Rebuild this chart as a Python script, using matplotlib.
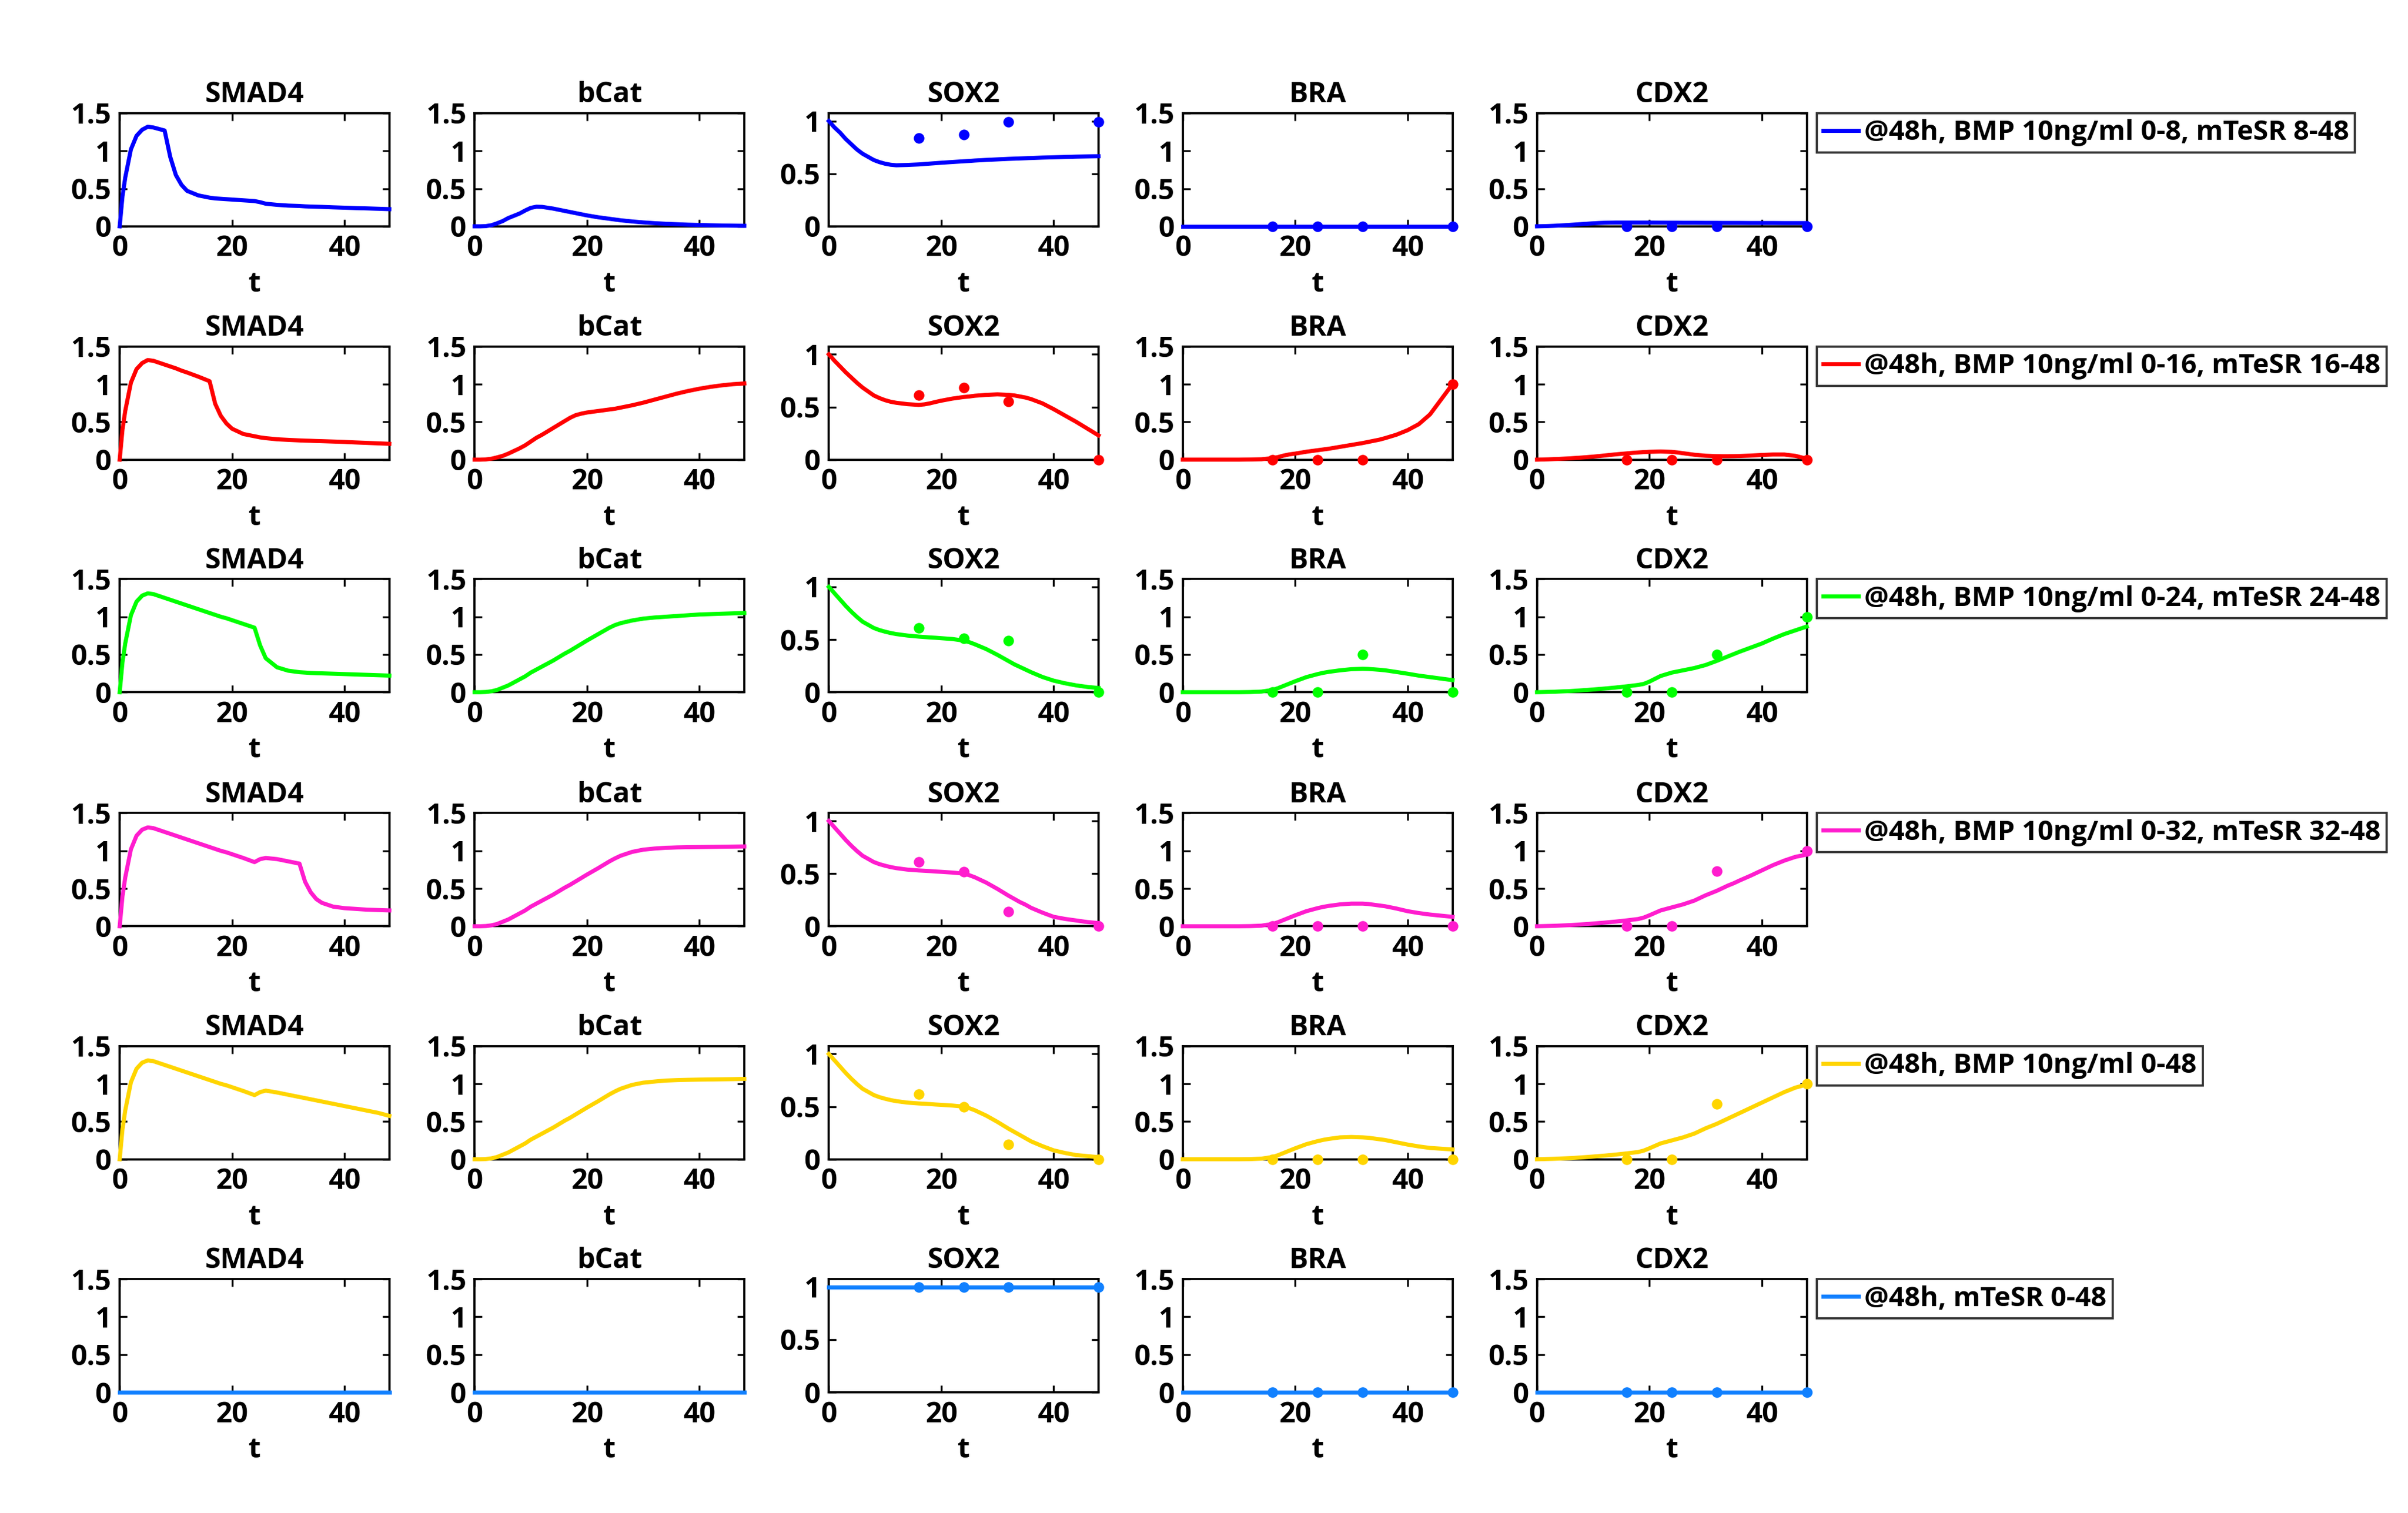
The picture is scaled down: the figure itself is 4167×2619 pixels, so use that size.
import matplotlib
matplotlib.use("Agg")
import matplotlib.pyplot as plt
import matplotlib.ticker as ticker

plt.rcParams["font.family"] = ["Open Sans", "DejaVu Sans"]
plt.rcParams["font.weight"] = "bold"

# ── Data ──────────────────────────────────────────────────────────────────────
# model time grid (hours)
T = [0, 0.5, 1, 2, 3, 4, 5, 6, 8, 9, 10, 11,
     12, 14, 16, 17, 18, 19, 20, 22, 24, 25, 26, 28,
     30, 32, 33, 34, 35, 36, 38, 40, 42, 44, 46, 48]

# measurement times
T_DATA = [16, 24, 32, 48]

GENES = ["SMAD4", "bCat", "SOX2", "BRA", "CDX2"]

CONDITIONS = [
    "@48h, BMP 10ng/ml 0-8, mTeSR 8-48",
    "@48h, BMP 10ng/ml 0-16, mTeSR 16-48",
    "@48h, BMP 10ng/ml 0-24, mTeSR 24-48",
    "@48h, BMP 10ng/ml 0-32, mTeSR 32-48",
    "@48h, BMP 10ng/ml 0-48",
    "@48h, mTeSR 0-48",
]
COLORS = ["#0000FF", "#FF0000", "#00FF00", "#FF1DCE", "#FFD500", "#1080FF"]

ZERO = [0, 0, 0, 0, 0, 0, 0, 0, 0, 0, 0, 0,
        0, 0, 0, 0, 0, 0, 0, 0, 0, 0, 0, 0,
        0, 0, 0, 0, 0, 0, 0, 0, 0, 0, 0, 0]
ONE = [1, 1, 1, 1, 1, 1, 1, 1, 1, 1, 1, 1,
       1, 1, 1, 1, 1, 1, 1, 1, 1, 1, 1, 1,
       1, 1, 1, 1, 1, 1, 1, 1, 1, 1, 1, 1]

# simulated curves, one list per condition (row)
SMAD4 = [
    [0, .40, .65, 1.02, 1.20, 1.28, 1.32, 1.31, 1.27, 0.92, 0.68, 0.55,
     0.47, 0.41, 0.38, 0.37, 0.365, 0.36, 0.355, 0.345, 0.335, 0.32, 0.30, 0.285,
     0.275, 0.27, 0.265, 0.262, 0.26, 0.258, 0.252, 0.247, 0.242, 0.238, 0.233, 0.228],
    [0, .40, .65, 1.02, 1.20, 1.28, 1.32, 1.31, 1.26, 1.235, 1.21, 1.18,
     1.155, 1.10, 1.04, 0.74, 0.58, 0.48, 0.41, 0.34, 0.31, 0.295, 0.285, 0.27,
     0.262, 0.255, 0.252, 0.25, 0.247, 0.245, 0.24, 0.235, 0.228, 0.222, 0.216, 0.21],
    [0, .40, .65, 1.02, 1.20, 1.28, 1.31, 1.30, 1.25, 1.225, 1.20, 1.175,
     1.15, 1.10, 1.05, 1.025, 1.0, 0.98, 0.955, 0.905, 0.855, 0.62, 0.45, 0.33,
     0.285, 0.265, 0.26, 0.255, 0.252, 0.25, 0.245, 0.24, 0.235, 0.23, 0.225, 0.22],
    [0, .40, .65, 1.02, 1.20, 1.28, 1.31, 1.30, 1.25, 1.225, 1.20, 1.175,
     1.15, 1.10, 1.05, 1.025, 1.0, 0.98, 0.955, 0.905, 0.85, 0.89, 0.905, 0.89,
     0.86, 0.83, 0.59, 0.45, 0.36, 0.31, 0.26, 0.24, 0.23, 0.22, 0.215, 0.21],
    [0, .40, .65, 1.02, 1.20, 1.28, 1.31, 1.30, 1.25, 1.225, 1.20, 1.175,
     1.15, 1.10, 1.05, 1.025, 1.0, 0.98, 0.955, 0.905, 0.85, 0.89, 0.91, 0.885,
     0.855, 0.825, 0.81, 0.795, 0.78, 0.765, 0.735, 0.705, 0.675, 0.645, 0.615, 0.575],
    ZERO,
]

BCAT = [
    [0, 0, 0, 0.003, 0.015, 0.04, 0.07, 0.11, 0.17, 0.21, 0.245, 0.26,
     0.258, 0.235, 0.205, 0.19, 0.175, 0.16, 0.145, 0.12, 0.10, 0.09, 0.08, 0.065,
     0.052, 0.042, 0.038, 0.034, 0.031, 0.028, 0.022, 0.018, 0.014, 0.011, 0.009, 0.007],
    [0, 0, 0, 0.003, 0.012, 0.03, 0.05, 0.08, 0.15, 0.19, 0.24, 0.29,
     0.33, 0.42, 0.51, 0.555, 0.59, 0.61, 0.625, 0.645, 0.665, 0.675, 0.69, 0.72,
     0.755, 0.795, 0.815, 0.835, 0.855, 0.875, 0.91, 0.94, 0.965, 0.985, 1.0, 1.01],
    [0, 0, 0, 0.003, 0.012, 0.03, 0.06, 0.09, 0.17, 0.21, 0.26, 0.30,
     0.34, 0.42, 0.51, 0.55, 0.595, 0.64, 0.685, 0.77, 0.855, 0.89, 0.915, 0.95,
     0.975, 0.99, 0.995, 1.0, 1.005, 1.01, 1.02, 1.03, 1.035, 1.04, 1.045, 1.05],
    [0, 0, 0, 0.003, 0.012, 0.03, 0.06, 0.09, 0.17, 0.21, 0.26, 0.30,
     0.34, 0.42, 0.51, 0.55, 0.595, 0.64, 0.685, 0.77, 0.86, 0.90, 0.935, 0.985,
     1.015, 1.03, 1.035, 1.04, 1.042, 1.045, 1.048, 1.05, 1.052, 1.054, 1.056, 1.058],
    [0, 0, 0, 0.003, 0.012, 0.03, 0.06, 0.09, 0.17, 0.21, 0.26, 0.30,
     0.34, 0.42, 0.51, 0.55, 0.595, 0.64, 0.685, 0.77, 0.86, 0.90, 0.935, 0.985,
     1.015, 1.03, 1.037, 1.043, 1.046, 1.049, 1.053, 1.056, 1.058, 1.06, 1.062, 1.065],
    ZERO,
]

SOX2 = [
    [1.0, 0.97, 0.94, 0.89, 0.83, 0.78, 0.73, 0.69, 0.63, 0.61, 0.595, 0.585,
     0.58, 0.583, 0.588, 0.592, 0.596, 0.60, 0.604, 0.611, 0.618, 0.621, 0.625, 0.631,
     0.636, 0.641, 0.643, 0.645, 0.647, 0.649, 0.653, 0.656, 0.659, 0.662, 0.664, 0.666],
    [1.0, 0.97, 0.94, 0.885, 0.83, 0.78, 0.73, 0.685, 0.61, 0.585, 0.565, 0.55,
     0.54, 0.527, 0.52, 0.525, 0.535, 0.548, 0.56, 0.58, 0.595, 0.60, 0.607, 0.615,
     0.62, 0.615, 0.61, 0.60, 0.59, 0.575, 0.535, 0.48, 0.42, 0.36, 0.295, 0.23],
    [1.0, 0.97, 0.94, 0.88, 0.82, 0.765, 0.715, 0.67, 0.61, 0.59, 0.575, 0.562,
     0.552, 0.538, 0.528, 0.524, 0.52, 0.517, 0.513, 0.505, 0.49, 0.475, 0.455, 0.41,
     0.355, 0.295, 0.265, 0.24, 0.215, 0.19, 0.145, 0.11, 0.085, 0.065, 0.05, 0.04],
    [1.0, 0.97, 0.94, 0.88, 0.82, 0.765, 0.715, 0.67, 0.61, 0.59, 0.575, 0.562,
     0.552, 0.538, 0.53, 0.527, 0.524, 0.52, 0.517, 0.51, 0.50, 0.485, 0.465, 0.415,
     0.355, 0.29, 0.26, 0.23, 0.205, 0.175, 0.13, 0.09, 0.07, 0.055, 0.04, 0.03],
    [1.0, 0.97, 0.94, 0.88, 0.82, 0.765, 0.715, 0.67, 0.61, 0.59, 0.575, 0.562,
     0.552, 0.538, 0.53, 0.527, 0.524, 0.52, 0.517, 0.51, 0.50, 0.485, 0.465, 0.415,
     0.355, 0.29, 0.26, 0.23, 0.20, 0.17, 0.125, 0.085, 0.06, 0.04, 0.03, 0.02],
    ONE,
]

BRA = [
    ZERO,
    [0, 0, 0, 0, 0, 0, 0, 0, 0, 0, 0, 0.001,
     0.002, 0.005, 0.02, 0.035, 0.055, 0.07, 0.08, 0.105, 0.125, 0.135, 0.145, 0.17,
     0.195, 0.22, 0.235, 0.25, 0.265, 0.285, 0.33, 0.39, 0.47, 0.60, 0.80, 1.0],
    [0, 0, 0, 0, 0, 0, 0, 0, 0, 0, 0, 0.001,
     0.002, 0.008, 0.03, 0.055, 0.085, 0.115, 0.145, 0.20, 0.24, 0.257, 0.27, 0.29,
     0.305, 0.31, 0.308, 0.303, 0.297, 0.29, 0.268, 0.245, 0.22, 0.20, 0.18, 0.16],
    [0, 0, 0, 0, 0, 0, 0, 0, 0, 0, 0, 0.001,
     0.002, 0.008, 0.03, 0.055, 0.085, 0.115, 0.145, 0.20, 0.24, 0.257, 0.27, 0.29,
     0.30, 0.30, 0.295, 0.285, 0.275, 0.265, 0.235, 0.20, 0.175, 0.155, 0.14, 0.125],
    [0, 0, 0, 0, 0, 0, 0, 0, 0, 0, 0, 0.001,
     0.002, 0.008, 0.03, 0.055, 0.085, 0.115, 0.145, 0.20, 0.24, 0.257, 0.27, 0.29,
     0.295, 0.29, 0.285, 0.275, 0.265, 0.255, 0.225, 0.195, 0.17, 0.15, 0.14, 0.13],
    ZERO,
]

CDX2 = [
    [0, 0.001, 0.002, 0.004, 0.007, 0.011, 0.015, 0.02, 0.03, 0.035, 0.04, 0.044,
     0.047, 0.05, 0.05, 0.05, 0.05, 0.05, 0.05, 0.049, 0.048, 0.048, 0.047, 0.047,
     0.046, 0.046, 0.045, 0.045, 0.045, 0.045, 0.044, 0.044, 0.044, 0.043, 0.043, 0.043],
    [0, 0.001, 0.002, 0.004, 0.007, 0.01, 0.014, 0.018, 0.028, 0.034, 0.04, 0.047,
     0.055, 0.07, 0.083, 0.09, 0.095, 0.10, 0.104, 0.108, 0.103, 0.095, 0.085, 0.065,
     0.052, 0.046, 0.045, 0.045, 0.046, 0.048, 0.054, 0.062, 0.068, 0.068, 0.05, 0.012],
    [0, 0.001, 0.002, 0.004, 0.006, 0.009, 0.012, 0.015, 0.025, 0.03, 0.036, 0.042,
     0.048, 0.062, 0.078, 0.087, 0.096, 0.11, 0.14, 0.215, 0.26, 0.275, 0.29, 0.32,
     0.36, 0.415, 0.445, 0.475, 0.505, 0.535, 0.59, 0.645, 0.71, 0.77, 0.82, 0.87],
    [0, 0.001, 0.002, 0.004, 0.006, 0.009, 0.012, 0.015, 0.025, 0.03, 0.036, 0.042,
     0.048, 0.062, 0.078, 0.087, 0.096, 0.115, 0.145, 0.21, 0.25, 0.27, 0.29, 0.34,
     0.41, 0.47, 0.505, 0.54, 0.57, 0.605, 0.67, 0.74, 0.81, 0.87, 0.92, 0.95],
    [0, 0.001, 0.002, 0.004, 0.006, 0.009, 0.012, 0.015, 0.025, 0.03, 0.036, 0.042,
     0.048, 0.062, 0.078, 0.087, 0.096, 0.115, 0.145, 0.21, 0.25, 0.27, 0.29, 0.34,
     0.41, 0.47, 0.505, 0.54, 0.575, 0.61, 0.68, 0.75, 0.82, 0.89, 0.95, 0.99],
    ZERO,
]

# measured values at T_DATA (only SOX2, BRA, CDX2 were measured)
SOX2_DATA = [[0.84, 0.87, 0.99, 0.99], [0.61, 0.685, 0.55, 0.0], [0.61, 0.51, 0.49, 0.0],
             [0.61, 0.52, 0.14, 0.0], [0.62, 0.50, 0.14, 0.0], [1.0, 1.0, 1.0, 1.0]]
BRA_DATA = [[0, 0, 0, 0], [0, 0, 0, 1.0], [0, 0, 0.5, 0],
            [0, 0, 0, 0], [0, 0, 0, 0], [0, 0, 0, 0]]
CDX2_DATA = [[0, 0, 0, 0], [0, 0, 0, 0], [0, 0, 0.5, 1.0],
             [0, 0, 0.73, 1.0], [0, 0, 0.73, 1.0], [0, 0, 0, 0]]

CURVES = [SMAD4, BCAT, SOX2, BRA, CDX2]
POINTS = [None, None, SOX2_DATA, BRA_DATA, CDX2_DATA]

SAVE = "out.png"

# ── Layout (figure fractions) ─────────────────────────────────────────────────
COL_LEFT = [0.0497, 0.1971, 0.3442, 0.4912, 0.6383]
ROW_BOTTOM = [0.8504, 0.6962, 0.5425, 0.3878, 0.2338, 0.0798]
AX_W, AX_H = 0.1120, 0.0748
FS = 11.8       # titles, ticks, x label
FS_LEG = 11.4   # legend text


def style_axes(ax, ymax, yticks):
    ax.set_xlim(0, 48)
    ax.set_ylim(0, ymax)
    ax.set_xticks([0, 20, 40])
    ax.set_yticks(yticks)
    ax.yaxis.set_major_formatter(ticker.FuncFormatter(lambda v, p: f"{v:g}"))
    ax.tick_params(direction="in", top=True, right=True, length=3, width=0.8,
                   labelsize=FS, pad=3.5)
    for lab in ax.get_xticklabels() + ax.get_yticklabels():
        lab.set_fontweight("bold")
    for sp in ax.spines.values():
        sp.set_linewidth(0.9)
    ax.set_xlabel("t", fontsize=FS, fontweight="bold", labelpad=3)


# ── Plot ──────────────────────────────────────────────────────────────────────
fig = plt.figure(figsize=(4167 / 300, 2619 / 300), dpi=300)
fig.patch.set_facecolor("white")

for r, (label, color) in enumerate(zip(CONDITIONS, COLORS)):
    for c, gene in enumerate(GENES):
        ax = fig.add_axes([COL_LEFT[c], ROW_BOTTOM[r], AX_W, AX_H])
        line, = ax.plot(T, CURVES[c][r], color=color, linewidth=1.7,
                        clip_on=False, zorder=3, label=label)
        if POINTS[c] is not None:
            ax.plot(T_DATA, POINTS[c][r], linestyle="none", marker="o",
                    markersize=4.4, markeredgewidth=0, color=color,
                    clip_on=False, zorder=4)
        if gene == "SOX2":
            style_axes(ax, 1.075, [0, 0.5, 1])
        else:
            style_axes(ax, 1.5, [0, 0.5, 1, 1.5])
        ax.set_title(gene, fontsize=FS, fontweight="bold", pad=4.5)

        if c == len(GENES) - 1:
            leg = ax.legend(handles=[line], loc="upper left",
                            bbox_to_anchor=(1.038, 1.0), borderaxespad=0,
                            frameon=True, fancybox=False,
                            handlelength=1.3, handletextpad=0.2,
                            borderpad=0.22, prop={"weight": "bold", "size": FS_LEG})
            leg.get_frame().set_edgecolor("black")
            leg.get_frame().set_linewidth(0.9)

fig.savefig(SAVE, dpi=300)
print(f"Saved → {SAVE}")
